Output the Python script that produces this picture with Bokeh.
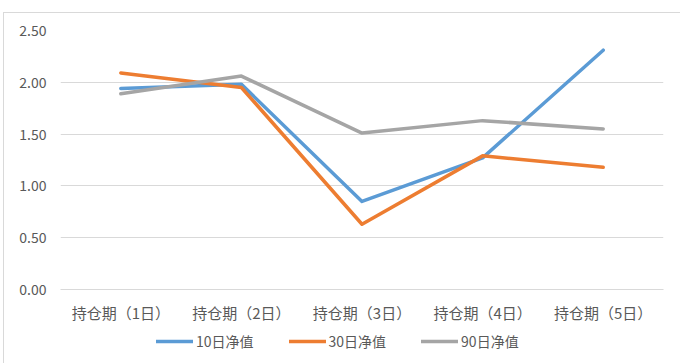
from bokeh.plotting import figure
from bokeh.layouts import column
from bokeh.models import Legend, LegendItem, ColumnDataSource, SingleIntervalTicker, NumeralTickFormatter, FactorRange
from bokeh.embed import file_html
from bokeh.resources import INLINE

categories = ["持仓期（1日）", "持仓期（2日）", "持仓期（3日）", "持仓期（4日）", "持仓期（5日）"]
nav_10 = [1.94, 1.98, 0.85, 1.27, 2.31]
nav_30 = [2.09, 1.95, 0.63, 1.29, 1.18]
nav_90 = [1.89, 2.06, 1.51, 1.63, 1.55]
series_names = ["10日净值", "30日净值", "90日净值"]
colors = ["#5b9bd5", "#ed7d31", "#a5a5a5"]

FONT = "Noto Sans CJK SC"
LW = 3.5

p = figure(width=676, height=312, x_range=FactorRange(*categories, range_padding=0),
           y_range=(0, 2.5), output_backend="svg", toolbar_location=None,
           min_border_left=56, min_border_right=17, min_border_top=17, min_border_bottom=36)
p.x_range.factor_padding = 0

src = ColumnDataSource(dict(x=categories, a=nav_10, b=nav_30, c=nav_90))
for col, c in zip(["a", "b", "c"], colors):
    p.line("x", col, source=src, line_color=c, line_width=LW, line_join="round", line_cap="round")

p.outline_line_color = None
p.xgrid.grid_line_color = None
p.ygrid.grid_line_color = "#d9d9d9"
p.ygrid.grid_line_width = 1
p.yaxis.ticker = SingleIntervalTicker(interval=0.5)
p.yaxis.formatter = NumeralTickFormatter(format="0.00")
for ax in (p.xaxis[0], p.yaxis[0]):
    ax.axis_line_color = None
    ax.major_tick_line_color = None
    ax.minor_tick_line_color = None
    ax.major_tick_out = 0
    ax.major_tick_in = 0
    ax.minor_tick_out = 0
    ax.major_label_text_font = FONT
    ax.major_label_text_color = "#595959"
p.yaxis.major_label_text_font_size = "14px"
p.xaxis.major_label_text_font_size = "15px"
p.yaxis.major_label_standoff = 14
p.xaxis.major_label_standoff = 12
p.xaxis.axis_line_color = "#d9d9d9"

# legend strip
lg = figure(width=676, height=38, x_range=(0, 1), y_range=(0, 1), output_backend="svg",
            toolbar_location=None, min_border=0)
lg.axis.visible = False
lg.grid.visible = False
lg.outline_line_color = None
items = []
for n, c in zip(series_names, colors):
    r = lg.line(x=[5, 6], y=[5, 6], line_color=c, line_width=LW, line_cap="round")
    items.append(LegendItem(label=n, renderers=[r]))
legend = Legend(items=items, orientation="horizontal", location=(96, 12), border_line_color=None,
                background_fill_alpha=0, label_text_font=FONT, label_text_font_size="14px",
                label_text_color="#595959", glyph_width=37, label_standoff=3, spacing=35,
                padding=0, margin=0)
lg.add_layout(legend)

layout = column(p, lg, spacing=0)
layout.styles = {"margin-top": "12px", "margin-left": "3px",
                 "border-top": "1px solid #d9d9d9", "border-left": "1px solid #d9d9d9"}
open("out.html", "w").write(file_html(layout, INLINE))
